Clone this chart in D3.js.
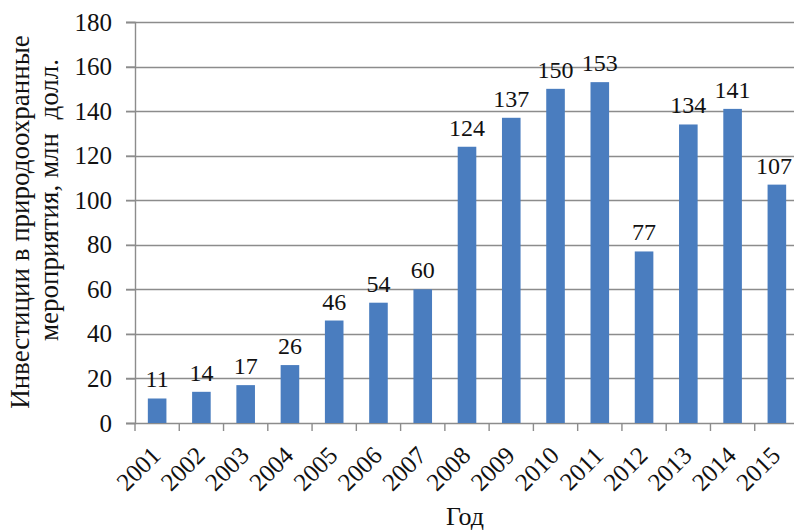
<!DOCTYPE html>
<html>
<head>
<meta charset="utf-8">
<script src="https://cdn.jsdelivr.net/npm/d3@7"></script>
<style>
  body { margin: 0; background: #fff; }
  svg text { font-family: "Liberation Serif", "DejaVu Serif", serif; fill: #111; }
</style>
</head>
<body>
<div id="chart"></div>
<script>
var years = ["2001", "2002", "2003", "2004", "2005", "2006", "2007", "2008",
             "2009", "2010", "2011", "2012", "2013", "2014", "2015"];
var investments = [11, 14, 17, 26, 46, 54, 60, 124, 137, 150, 153, 77, 134, 141, 107];
var yTicks = [0, 20, 40, 60, 80, 100, 120, 140, 160, 180];
var yTitleLines = ["Инвестиции в природоохранные", "мероприятия, млн  долл."];
var xTitle = "Год";

var width = 794, height = 531,
    margin = {top: 22, right: -5, bottom: 108, left: 135},
    fontSize = "25px",
    gridColor = "#8c8c8c";

var svg = d3.select("#chart").append("svg")
    .attr("width", width)
    .attr("height", height)
    .attr("font-family", "'Liberation Serif', serif");

var x = d3.scaleBand()
    .domain(years)
    .range([margin.left, width - margin.right])
    .paddingInner(0.58)
    .paddingOuter(0.29);

var y = d3.scaleLinear()
    .domain([0, 180])
    .range([height - margin.bottom, margin.top]);

// gridlines
svg.append("g")
  .selectAll("line")
  .data(yTicks)
  .enter().append("line")
    .attr("x1", margin.left - 9)
    .attr("x2", width)
    .attr("y1", function(d) { return Math.round(y(d)) + 0.5; })
    .attr("y2", function(d) { return Math.round(y(d)) + 0.5; })
    .attr("stroke", gridColor)
    .attr("stroke-width", 1.4);

// bars
svg.append("g")
  .selectAll("rect")
  .data(investments)
  .enter().append("rect")
    .attr("x", function(d, i) { return x(years[i]); })
    .attr("y", function(d) { return y(d); })
    .attr("width", x.bandwidth())
    .attr("height", function(d) { return y(0) - y(d); })
    .attr("fill", "#4a7dbf");

// value labels (last one nudged left so it stays inside the frame)
svg.append("g")
  .selectAll("text")
  .data(investments)
  .enter().append("text")
    .attr("x", function(d, i) {
      var cx = x(years[i]) + x.bandwidth() / 2;
      return i === years.length - 1 ? Math.min(cx, width - 20) : cx;
    })
    .attr("y", function(d) { return y(d) - 11; })
    .attr("text-anchor", "middle")
    .style("font-size", "24px")
    .text(function(d) { return d; });

// y axis
var yAxis = svg.append("g")
    .attr("transform", "translate(" + margin.left + ",0)")
    .call(d3.axisLeft(y).tickValues(yTicks).tickSize(9).tickPadding(14));
yAxis.attr("font-family", "'Liberation Serif', serif");
yAxis.select(".domain").attr("stroke", gridColor).attr("stroke-width", 1.4);
yAxis.selectAll(".tick line").attr("stroke", gridColor).attr("stroke-width", 1.4);
yAxis.selectAll(".tick text")
    .style("font-size", fontSize)
    .attr("fill", "#111");

// x axis: ticks at band boundaries
var step = x.step();
var xg = svg.append("g");
xg.selectAll("line")
  .data(d3.range(years.length + 1))
  .enter().append("line")
    .attr("x1", function(i) { return margin.left + i * step; })
    .attr("x2", function(i) { return margin.left + i * step; })
    .attr("y1", y(0))
    .attr("y2", y(0) + 8)
    .attr("stroke", gridColor)
    .attr("stroke-width", 1.4);

xg.selectAll("text")
  .data(years)
  .enter().append("text")
    .attr("text-anchor", "end")
    .attr("transform", function(d) {
      var cx = x(d) + x.bandwidth() / 2;
      return "translate(" + (cx + 5) + "," + (y(0) + 34) + ") rotate(-45)";
    })
    .style("font-size", fontSize)
    .text(function(d) { return d; });

// axis titles
svg.append("text")
    .attr("x", 465)
    .attr("y", 525)
    .attr("text-anchor", "middle")
    .style("font-size", "26px")
    .text(xTitle);

svg.append("text")
    .attr("transform", "translate(29,222) rotate(-90)")
    .attr("text-anchor", "middle")
    .style("font-size", "27px")
    .text(yTitleLines[0]);

svg.append("text")
    .attr("transform", "translate(58,200) rotate(-90)")
    .attr("text-anchor", "middle")
    .style("font-size", "27px")
    .style("white-space", "pre")
    .text(yTitleLines[1]);
</script>
</body>
</html>
